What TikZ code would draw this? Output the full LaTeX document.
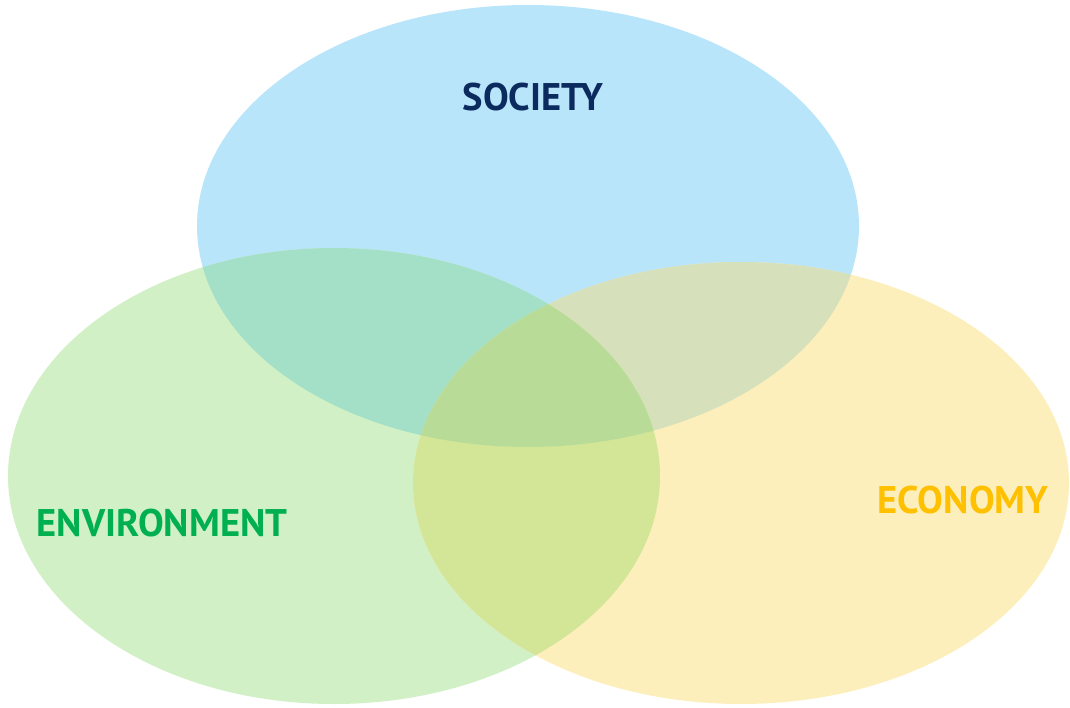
\documentclass[tikz,border=0pt]{standalone}
\usepackage{fontspec}
\setmainfont{PT Sans}
\usepackage{xcolor}

\definecolor{socblue}{HTML}{B9E5FB}
\definecolor{envgreen}{HTML}{D1F0C5}
\definecolor{ecoyellow}{HTML}{FDEFBC}
\definecolor{socenv}{HTML}{A4E0C8}
\definecolor{soceco}{HTML}{D6E0BB}
\definecolor{enveco}{HTML}{D3E597}
\definecolor{allthree}{HTML}{B8DC98}
\definecolor{soctext}{HTML}{0B2A5E}
\definecolor{envtext}{HTML}{00B050}
\definecolor{ecotext}{HTML}{FFC000}

\begin{document}
\begin{tikzpicture}[x=1pt, y=-1pt,
    label/.style={font=\fontsize{38.5}{42}\selectfont\bfseries}]
\useasboundingbox (0,0) rectangle (1070,708);

% Elipses base
\fill[socblue] (528,226) ellipse (331 and 221);
\fill[envgreen] (334,476) ellipse (326 and 228);
\fill[ecoyellow] (741,483) ellipse (328 and 221);

% Intersecciones de dos
\begin{scope}
  \clip (528,226) ellipse (331 and 221);
  \fill[socenv] (334,476) ellipse (326 and 228);
  \fill[soceco] (741,483) ellipse (328 and 221);
\end{scope}
\begin{scope}
  \clip (334,476) ellipse (326 and 228);
  \fill[enveco] (741,483) ellipse (328 and 221);
\end{scope}

% Interseccion de las tres
\begin{scope}
  \clip (528,226) ellipse (331 and 221);
  \clip (334,476) ellipse (326 and 228);
  \fill[allthree] (741,483) ellipse (328 and 221);
\end{scope}

% Etiquetas
\node[label, soctext] (society) at (533,97) {SOCIETY};
\node[label, envtext] (environment) at (162,523) {ENVIRONMENT};
\node[label, ecotext] (economy) at (963,500) {ECONOMY};

\end{tikzpicture}
\end{document}
